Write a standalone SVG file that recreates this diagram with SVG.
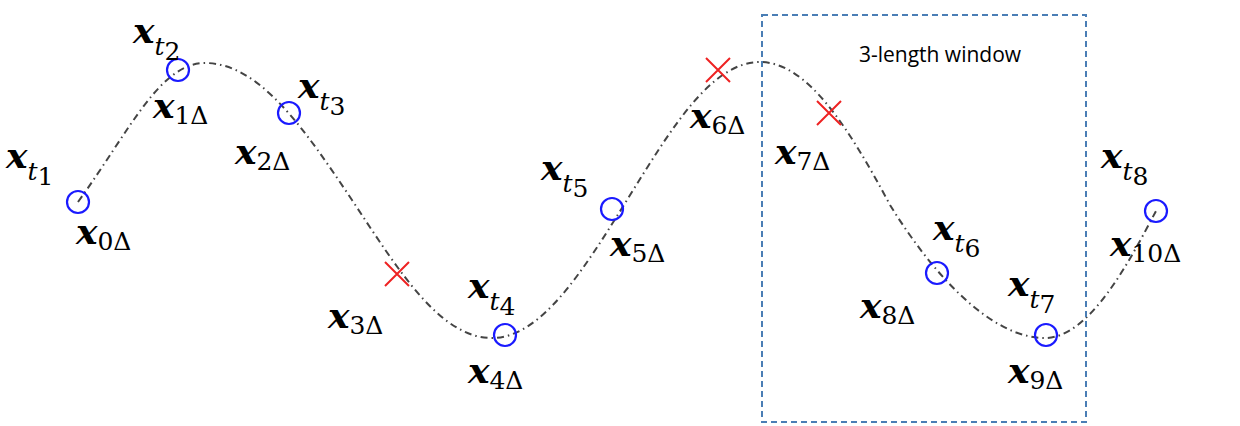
<svg xmlns="http://www.w3.org/2000/svg" width="1240" height="426" viewBox="0 0 1240 426">
<style>
.c{fill:none;stroke:#1a1aff;stroke-width:2.2}
.x{stroke:#ee2222;stroke-width:2}
.l{font-family:"DejaVu Serif","Liberation Serif",serif;font-size:36px;font-weight:bold;font-style:italic;fill:#000}
.s{font-size:25px;font-weight:normal}
.u{font-style:normal}
</style>
<rect width="1240" height="426" fill="#fff"/>
<g id="connectors">
<path d="M78,202 C130,130 160,63 205,63 C260,63 305,130 352,200 C399,271 440,338 492,338 C541,338 583,271 627,200 C671,129 711,62 760,62 C808,62 850,130 890,205 C932,273 990,338 1045,338 C1090,338 1130,260 1156,211" fill="none" stroke="#444" stroke-width="2" stroke-dasharray="7 4 1.5 4"/>
</g>
<g id="window"><rect x="762" y="15" width="324" height="407" fill="none" stroke="#4a7eb5" stroke-width="2" stroke-dasharray="6 4"/>
<text x="940" y="62" text-anchor="middle" font-family="Open Sans,sans-serif" font-size="21">3-length window</text></g>
<g id="points">
<circle class="c" cx="78" cy="202" r="11"/><circle class="c" cx="178" cy="70" r="11"/><circle class="c" cx="289" cy="113" r="11"/>
<circle class="c" cx="505" cy="335" r="11"/><circle class="c" cx="612" cy="209" r="11"/><circle class="c" cx="937" cy="273" r="11"/>
<circle class="c" cx="1046" cy="335" r="11"/><circle class="c" cx="1156" cy="211" r="11"/>
<path class="x" d="M385,262 L409,286 M409,262 L385,286"/>
<path class="x" d="M706,58 L730,82 M730,58 L706,82"/>
<path class="x" d="M817,101 L841,125 M841,101 L817,125"/>
</g>
<g id="labels">
<text class="l" x="6" y="168">x<tspan class="s" dy="12">t</tspan><tspan class="s u" font-size="17" dy="5">1</tspan></text>
<text class="l" x="133" y="43">x<tspan class="s" dy="12">t</tspan><tspan class="s u" font-size="17" dy="5">2</tspan></text>
<text class="l" x="298" y="98">x<tspan class="s" dy="12">t</tspan><tspan class="s u" font-size="17" dy="5">3</tspan></text>
<text class="l" x="468" y="298">x<tspan class="s" dy="12">t</tspan><tspan class="s u" font-size="17" dy="5">4</tspan></text>
<text class="l" x="541" y="180">x<tspan class="s" dy="12">t</tspan><tspan class="s u" font-size="17" dy="5">5</tspan></text>
<text class="l" x="933" y="240">x<tspan class="s" dy="12">t</tspan><tspan class="s u" font-size="17" dy="5">6</tspan></text>
<text class="l" x="1008" y="296">x<tspan class="s" dy="12">t</tspan><tspan class="s u" font-size="17" dy="5">7</tspan></text>
<text class="l" x="1101" y="168">x<tspan class="s" dy="12">t</tspan><tspan class="s u" font-size="17" dy="5">8</tspan></text>
<text class="l" x="76" y="244">x<tspan class="s u" dy="6">0Δ</tspan></text>
<text class="l" x="153" y="118">x<tspan class="s u" dy="6">1Δ</tspan></text>
<text class="l" x="235" y="164">x<tspan class="s u" dy="6">2Δ</tspan></text>
<text class="l" x="328" y="328">x<tspan class="s u" dy="6">3Δ</tspan></text>
<text class="l" x="468" y="383">x<tspan class="s u" dy="6">4Δ</tspan></text>
<text class="l" x="610" y="256">x<tspan class="s u" dy="6">5Δ</tspan></text>
<text class="l" x="690" y="128">x<tspan class="s u" dy="6">6Δ</tspan></text>
<text class="l" x="775" y="164">x<tspan class="s u" dy="6">7Δ</tspan></text>
<text class="l" x="860" y="318">x<tspan class="s u" dy="6">8Δ</tspan></text>
<text class="l" x="1008" y="383">x<tspan class="s u" dy="6">9Δ</tspan></text>
<text class="l" x="1110" y="256">x<tspan class="s u" dy="6">10Δ</tspan></text>
</g>
</svg>
